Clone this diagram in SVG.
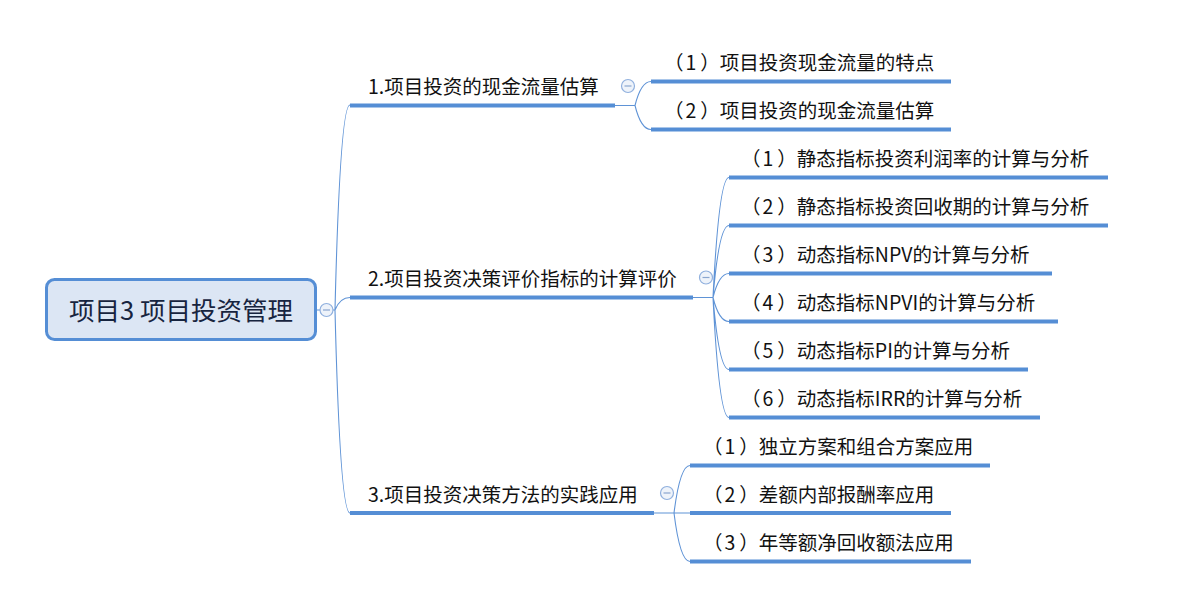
<svg xmlns="http://www.w3.org/2000/svg" width="1194" height="606" viewBox="0 0 1194 606">
<style>
.t{font-family:"Noto Sans CJK SC","Microsoft YaHei",sans-serif;font-size:19.5px;fill:#111;}
.root{font-family:"Noto Sans CJK SC","Microsoft YaHei",sans-serif;font-size:25.5px;fill:#17243f;}
.thin{fill:none;stroke:#5f93d6;stroke-width:1.1;}
.u{stroke:#558ed5;stroke-width:4;}
.c{fill:#eef3fa;stroke:#90b0de;stroke-width:1.2;}
.m{stroke:#8aa6cf;stroke-width:1.2;}
</style>
<rect width="1194" height="606" fill="#fff"/>
<g id="connectors">
<path class="thin" d="M316,310 H335 M335,310 Q340,105 350,105 M335,310 Q340,297.5 350,297.5 M335,310 Q340,513 350,513"/>
<path class="thin" d="M615,105.5 H635 M635,105.5 Q641,81.5 651,81.5 M635,105.5 Q641,129.5 651,129.5"/>
<path class="thin" d="M693,297.5 H713 M713,297.5 Q719,177.5 729,177.5 M713,297.5 Q719,225.5 729,225.5 M713,297.5 Q719,273.5 729,273.5 M713,297.5 Q719,321.5 729,321.5 M713,297.5 Q719,369.5 729,369.5 M713,297.5 Q719,417.5 729,417.5"/>
<path class="thin" d="M654,513 H674 M674,513 Q680,465.5 690,465.5 M674,513 H690 M674,513 Q680,561.5 690,561.5"/>
</g>
<g id="root">
<rect x="46.5" y="279.5" width="269" height="60" rx="8" fill="#dce6f4" stroke="#558ed5" stroke-width="3"/>
<text class="root" x="181" y="320" text-anchor="middle">项目3 项目投资管理</text>
<circle class="c" cx="326.5" cy="310" r="6.5"/><line class="m" x1="323" y1="310" x2="330" y2="310"/>
</g>
<g id="b1">
<line class="u" x1="350" y1="105.5" x2="615" y2="105.5"/>
<text class="t" x="368" y="93.5">1.项目投资的现金流量估算</text>
<circle class="c" cx="628" cy="86" r="6.5"/><line class="m" x1="624.5" y1="86" x2="631.5" y2="86"/>
</g>
<g id="b1c1"><line class="u" x1="651" y1="81.5" x2="951" y2="81.5"/><text class="t" x="664" y="70">（<tspan dx="2">1</tspan><tspan dx="4">）</tspan>项目投资现金流量的特点</text></g>
<g id="b1c2"><line class="u" x1="651" y1="129.5" x2="951" y2="129.5"/><text class="t" x="664" y="118">（<tspan dx="2">2</tspan><tspan dx="4">）</tspan>项目投资的现金流量估算</text></g>
<g id="b2">
<line class="u" x1="350" y1="297.5" x2="693" y2="297.5"/>
<text class="t" x="368" y="285.5">2.项目投资决策评价指标的计算评价</text>
<circle class="c" cx="706" cy="277.5" r="6.5"/><line class="m" x1="702.5" y1="277.5" x2="709.5" y2="277.5"/>
</g>
<g id="b2c1"><line class="u" x1="729" y1="177.5" x2="1108" y2="177.5"/><text class="t" x="741" y="166">（<tspan dx="2">1</tspan><tspan dx="4">）</tspan>静态指标投资利润率的计算与分析</text></g>
<g id="b2c2"><line class="u" x1="729" y1="225.5" x2="1108" y2="225.5"/><text class="t" x="741" y="214">（<tspan dx="2">2</tspan><tspan dx="4">）</tspan>静态指标投资回收期的计算与分析</text></g>
<g id="b2c3"><line class="u" x1="729" y1="273.5" x2="1052" y2="273.5"/><text class="t" x="741" y="262">（<tspan dx="2">3</tspan><tspan dx="4">）</tspan>动态指标NPV的计算与分析</text></g>
<g id="b2c4"><line class="u" x1="729" y1="321.5" x2="1058" y2="321.5"/><text class="t" x="741" y="310">（<tspan dx="2">4</tspan><tspan dx="4">）</tspan>动态指标NPVI的计算与分析</text></g>
<g id="b2c5"><line class="u" x1="729" y1="369.5" x2="1028" y2="369.5"/><text class="t" x="741" y="358">（<tspan dx="2">5</tspan><tspan dx="4">）</tspan>动态指标PI的计算与分析</text></g>
<g id="b2c6"><line class="u" x1="729" y1="417.5" x2="1040" y2="417.5"/><text class="t" x="741" y="406">（<tspan dx="2">6</tspan><tspan dx="4">）</tspan>动态指标IRR的计算与分析</text></g>
<g id="b3">
<line class="u" x1="350" y1="513" x2="654" y2="513"/>
<text class="t" x="368" y="501.5">3.项目投资决策方法的实践应用</text>
<circle class="c" cx="667" cy="493" r="6.5"/><line class="m" x1="663.5" y1="493" x2="670.5" y2="493"/>
</g>
<g id="b3c1"><line class="u" x1="690" y1="465.5" x2="990" y2="465.5"/><text class="t" x="703" y="454">（<tspan dx="2">1</tspan><tspan dx="4">）</tspan>独立方案和组合方案应用</text></g>
<g id="b3c2"><line class="u" x1="690" y1="513" x2="951" y2="513"/><text class="t" x="703" y="501.5">（<tspan dx="2">2</tspan><tspan dx="4">）</tspan>差额内部报酬率应用</text></g>
<g id="b3c3"><line class="u" x1="690" y1="561.5" x2="971" y2="561.5"/><text class="t" x="703" y="550">（<tspan dx="2">3</tspan><tspan dx="4">）</tspan>年等额净回收额法应用</text></g>
</svg>
